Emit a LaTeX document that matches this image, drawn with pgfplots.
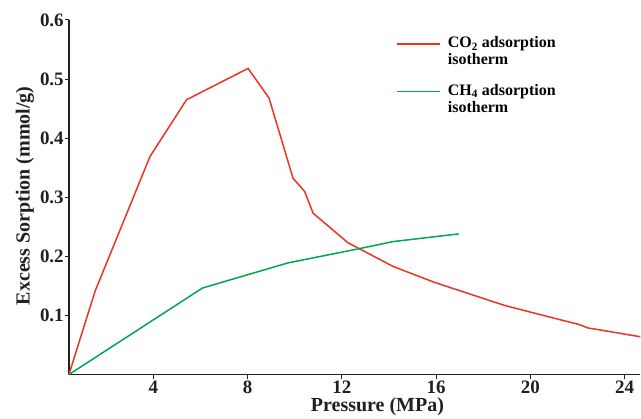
\documentclass[border=0pt]{standalone}
\usepackage{pgfplots}
\pgfplotsset{compat=1.18}
\usepackage{fontspec}
\setmainfont{Liberation Serif}
\definecolor{cored}{HTML}{EE3224}
\definecolor{chgreen}{HTML}{00A651}
\definecolor{axblack}{HTML}{231F20}
\begin{document}
\begin{tikzpicture}
\begin{axis}[
  name=ax,
  scale only axis,
  width=572pt, height=355pt,
  xmin=0.42, xmax=24.66,
  ymin=0, ymax=0.6,
  axis x line=bottom, axis y line=left,
  axis line style={-, axblack, line width=1.2pt},
  tick style={axblack, line width=1pt},
  tick align=outside,
  major tick length=4pt,
  xtick={4,8,12,16,20,24},
  ytick={0.1,0.2,0.3,0.4,0.5,0.6},
  yticklabel style={/pgf/number format/fixed, /pgf/number format/precision=1, /pgf/number format/fixed zerofill},
  /pgf/number format/assume math mode=true,
  ticklabel style={font=\fontsize{19}{19}\selectfont\bfseries, axblack},
  xticklabel style={inner sep=2pt},
  yticklabel style={inner sep=1pt},
  xlabel={Pressure (MPa)},
  ylabel={Excess Sorption (mmol/g)},
  label style={font=\fontsize{20}{20}\selectfont\bfseries, axblack},
  xlabel style={at={(axis description cs:0.540,-0.090)}, anchor=center},
  ylabel style={at={(axis description cs:-0.077,0.504)}, anchor=center},
  legend image code/.code={\draw[#1] (0pt,4pt) -- (43pt,4pt); \path (49pt,0pt);},
  legend style={draw=none, fill=none, inner sep=0pt, at={(axis description cs:0.573,0.958)}, anchor=north west,
    font=\fontsize{16}{17}\selectfont\bfseries, row sep=32pt,
    nodes={inner sep=1pt, anchor=base west}},
  legend cell align=left,
  clip=false,
]
\addplot[cored, line width=1.5pt] coordinates {
(0.42,0) (1.53,0.141) (3.86,0.369) (5.41,0.465) (8.02,0.518) (8.91,0.468)
(9.93,0.332) (10.42,0.310) (10.78,0.273) (12.26,0.223) (14.17,0.183)
(15.93,0.156) (18.9,0.117) (20.8,0.0975) (22.08,0.0845) (22.43,0.079) (24.66,0.064)
};
\addlegendentry{\begin{tabular}[t]{@{}l@{}}CO\textsubscript{2} adsorption\\isotherm\end{tabular}}
\addplot[chgreen, line width=1.5pt] coordinates {
(0.42,0) (6.09,0.1465) (9.72,0.189) (12.61,0.212) (14.17,0.225) (16.96,0.238)
};
\addlegendentry{\begin{tabular}[t]{@{}l@{}}CH\textsubscript{4} adsorption\\isotherm\end{tabular}}
\end{axis}
\path ([xshift=-69pt,yshift=-43pt]ax.south west) rectangle ([yshift=20pt]ax.north east);
\end{tikzpicture}
\end{document}
